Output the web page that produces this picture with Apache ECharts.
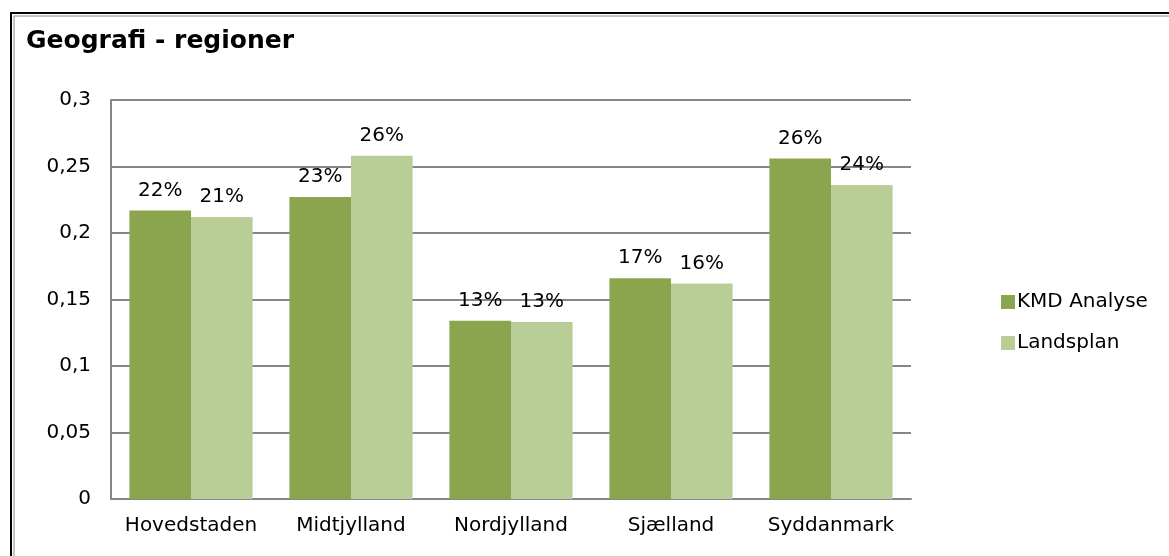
<!DOCTYPE html>
<html>
<head>
<meta charset="utf-8">
<script src="https://cdn.jsdelivr.net/npm/echarts@6/dist/echarts.min.js"></script>
<style>
  html, body { margin: 0; padding: 0; background: #fff; }
  #chart { width: 1169px; height: 556px; }
</style>
</head>
<body>
<div id="chart"></div>
<script>
const categories = ["Hovedstaden", "Midtjylland", "Nordjylland", "Sjælland", "Syddanmark"];
const kmdAnalyse = [0.217, 0.227, 0.134, 0.166, 0.256];
const landsplan = [0.212, 0.258, 0.133, 0.162, 0.236];
const yTicks = [0, 0.05, 0.1, 0.15, 0.2, 0.25, 0.3];

const fontFamily = "Verdana, 'DejaVu Sans', sans-serif";
const chart = echarts.init(document.getElementById("chart"));

const pctLabel = {
  show: true,
  position: "top",
  distance: 10,
  color: "#000",
  fontSize: 20,
  fontFamily: fontFamily,
  formatter: (p) => Math.round(p.value * 100) + "%",
};

chart.setOption({
  animation: false,
  title: {
    text: "Geografi - regioner",
    left: 21,
    top: 24,
    textStyle: { fontSize: 25, fontWeight: "bold", color: "#000", fontFamily: fontFamily },
  },
  graphic: [
    {
      type: "rect",
      shape: { x: 11, y: 13, width: 1170, height: 560 },
      style: { fill: "none", stroke: "#000", lineWidth: 2 },
      silent: true,
    },
    {
      type: "rect",
      shape: { x: 14, y: 16, width: 1170, height: 560 },
      style: { fill: "none", stroke: "#888", lineWidth: 1 },
      silent: true,
    },
  ],
  legend: {
    orient: "vertical",
    left: 996,
    top: 287,
    itemWidth: 14,
    itemHeight: 14,
    itemGap: 21,
    icon: "rect",
    textStyle: { fontSize: 20, color: "#000", fontFamily: fontFamily, padding: [0, 0, 0, -3] },
    data: ["KMD Analyse", "Landsplan"],
  },
  grid: { left: 111, right: 258, top: 100, bottom: 57 },
  xAxis: {
    type: "category",
    data: categories,
    axisLine: { lineStyle: { color: "#868686", width: 2 } },
    axisTick: { show: false },
    axisLabel: { color: "#000", fontSize: 20, fontFamily: fontFamily, margin: 17, interval: 0, hideOverlap: false },
  },
  yAxis: {
    type: "value",
    min: yTicks[0],
    max: yTicks[yTicks.length - 1],
    interval: 0.05,
    axisLine: { show: true, lineStyle: { color: "#868686", width: 2 } },
    axisTick: { show: false },
    splitLine: { lineStyle: { color: "#868686", width: 2 } },
    axisLabel: {
      color: "#000",
      fontSize: 20,
      fontFamily: fontFamily,
      margin: 20,
      formatter: (v) => String(+v.toFixed(2)).replace(".", ","),
    },
  },
  series: [
    {
      name: "KMD Analyse",
      type: "bar",
      data: kmdAnalyse,
      barGap: "0%",
      barCategoryGap: "23%",
      itemStyle: { color: "#8AA54E" },
      label: pctLabel,
    },
    {
      name: "Landsplan",
      type: "bar",
      data: landsplan,
      itemStyle: { color: "#B9CD96" },
      label: pctLabel,
    },
  ],
});
</script>
</body>
</html>
